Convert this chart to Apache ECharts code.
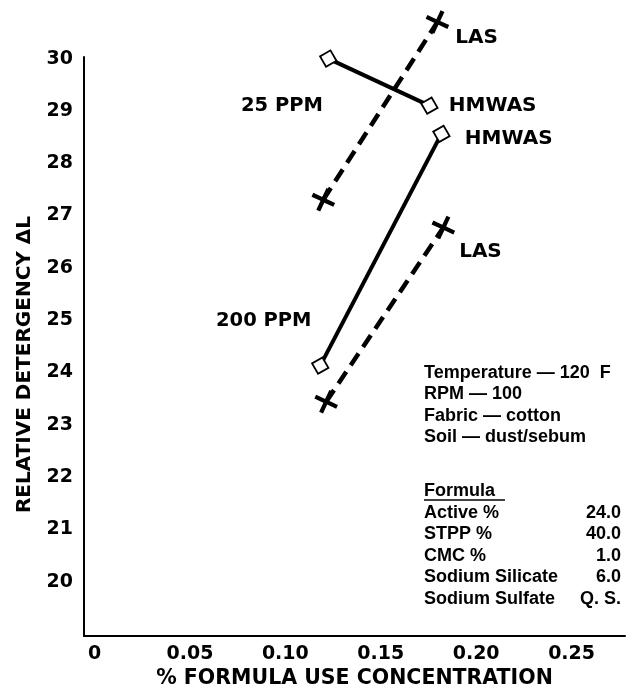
<!DOCTYPE html>
<html><head><meta charset="utf-8">
<script src="https://cdn.jsdelivr.net/npm/echarts@6/dist/echarts.min.js"></script>
<style>html,body{margin:0;padding:0;background:#fff}#c{width:626px;height:694px}</style>
</head><body><div id="c"></div>
<script>
// ---- data ----
const xTicks = [0, 0.05, 0.10, 0.15, 0.20, 0.25];
const yTicks = [20, 21, 22, 23, 24, 25, 26, 27, 28, 29, 30];
const hmwas25X = [0.1225, 0.1755];
const hmwas25Y = [30.0, 29.1];
const las25X = [0.1199, 0.1797];
const las25Y = [27.3, 30.7];
const hmwas200X = [0.1183, 0.1818];
const hmwas200Y = [24.13, 28.56];
const las200X = [0.1214, 0.1828];
const las200Y = [23.44, 26.77];
const seriesLabels = ['HMWAS', 'LAS', 'HMWAS', 'LAS'];
const groupLabels = ['25 PPM', '200 PPM'];
const conditionLines = ['Temperature \u2014 120  F', 'RPM \u2014 100', 'Fabric \u2014 cotton', 'Soil \u2014 dust/sebum'];
const formulaTitle = 'Formula';
const formulaItems = ['Active %', 'STPP %', 'CMC %', 'Sodium Silicate', 'Sodium Sulfate'];
const formulaValues = ['24.0', '40.0', '1.0', '6.0', 'Q. S.'];
const xTitle = '% FORMULA USE CONCENTRATION';
const yTitle = 'RELATIVE DETERGENCY \u0394L';

// ---- build ----
const BOLD = 'DejaVu Sans';
const X_PATH = 'path://M0,3L3,0L10,7L17,0L20,3L13,10L20,17L17,20L10,13L3,20L0,17L7,10Z';
function pts(xs, ys, label, lblOpt) {
  return xs.map((x, i) => {
    const item = { value: [x, ys[i]] };
    if (i === xs.length - 1) {
      item.label = Object.assign({ show: true, formatter: label, position: 'right',
        fontFamily: BOLD, fontWeight: 'bold', fontSize: 20, color: '#000' }, lblOpt);
    }
    return item;
  });
}
const squareStyle = { symbol: 'rect', symbolSize: 12, symbolRotate: 30,
  itemStyle: { color: '#fff', borderColor: '#000', borderWidth: 1.8 } };
const crossStyle = { symbol: X_PATH, symbolSize: 20, symbolRotate: 20,
  itemStyle: { color: '#000', borderWidth: 0 } };

const chart = echarts.init(document.getElementById('c'), null, { renderer: 'canvas' });
const graphics = [];
const GF = 'bold 19.5px "' + BOLD + '"';
graphics.push({ type: 'text', x: 241, y: 106, style: { text: groupLabels[0], font: GF, fill: '#000', verticalAlign: 'middle' } });
graphics.push({ type: 'text', x: 216, y: 321, style: { text: groupLabels[1], font: GF, fill: '#000', verticalAlign: 'middle' } });
const RF = 'bold 18px "Liberation Sans"';
conditionLines.forEach((t, i) => {
  graphics.push({ type: 'text', x: 424, y: 373 + i * 21.5, style: { text: t, font: RF, fill: '#000', verticalAlign: 'middle' } });
});
graphics.push({ type: 'text', x: 424, y: 491, style: { text: formulaTitle, font: RF, fill: '#000', verticalAlign: 'middle' } });
graphics.push({ type: 'line', shape: { x1: 424, y1: 500, x2: 505, y2: 500 }, style: { stroke: '#000', lineWidth: 1.5 } });
formulaItems.forEach((t, i) => {
  graphics.push({ type: 'text', x: 424, y: 513 + i * 21.5, style: { text: t, font: RF, fill: '#000', verticalAlign: 'middle' } });
  graphics.push({ type: 'text', x: 621, y: 513 + i * 21.5, style: { text: formulaValues[i], font: RF, fill: '#000', verticalAlign: 'middle', align: 'right' } });
});

chart.setOption({
  animation: false,
  backgroundColor: '#fff',
  grid: { left: 84, right: 1, top: 57, bottom: 56 },
  xAxis: {
    type: 'value', min: -0.0055, max: 0.278,
    name: xTitle, nameLocation: 'middle', nameGap: 30,
    nameTextStyle: { fontFamily: BOLD, fontWeight: 'bold', fontSize: 20.5, color: '#000' },
    axisLine: { show: true, onZero: false, lineStyle: { color: '#000', width: 2 } },
    axisTick: { show: false },
    splitLine: { show: false },
    axisLabel: { customValues: xTicks, margin: 8, fontFamily: BOLD, fontWeight: 'bold', fontSize: 19, color: '#000',
      formatter: v => (v === 0 ? '0' : v.toFixed(2)) }
  },
  yAxis: {
    type: 'value', min: 18.96, max: 30.03,
    name: yTitle, nameLocation: 'middle', nameGap: 49,
    nameTextStyle: { fontFamily: BOLD, fontWeight: 'bold', fontSize: 20, color: '#000', padding: [0, 36, 0, 0] },
    axisLine: { show: true, onZero: false, lineStyle: { color: '#000', width: 2 } },
    axisTick: { show: false },
    splitLine: { show: false },
    axisLabel: { customValues: yTicks, margin: 11, fontFamily: BOLD, fontWeight: 'bold', fontSize: 19, color: '#000' }
  },
  graphic: graphics,
  series: [
    Object.assign({ type: 'line', name: '25 PPM HMWAS', clip: false, data: pts(hmwas25X, hmwas25Y, seriesLabels[0], { distance: 10, offset: [0, 0] }),
      lineStyle: { color: '#000', width: 4 } }, squareStyle),
    Object.assign({ type: 'line', name: '25 PPM LAS', clip: false, data: pts(las25X, las25Y, seriesLabels[1], { distance: 5, offset: [0, 16] }),
      lineStyle: { color: '#000', width: 4.5, type: [14, 8] } }, crossStyle),
    Object.assign({ type: 'line', name: '200 PPM HMWAS', clip: false, data: pts(hmwas200X, hmwas200Y, seriesLabels[2], { distance: 14, offset: [0, 5] }),
      lineStyle: { color: '#000', width: 4 } }, squareStyle),
    Object.assign({ type: 'line', name: '200 PPM LAS', clip: false, data: pts(las200X, las200Y, seriesLabels[3], { distance: 3, offset: [0, 24] }),
      lineStyle: { color: '#000', width: 4.5, type: [14, 8] } }, crossStyle)
  ]
});
</script></body></html>
